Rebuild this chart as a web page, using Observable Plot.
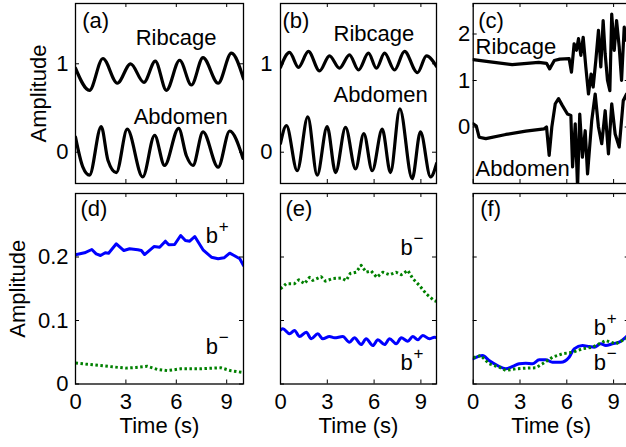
<!DOCTYPE html>
<html>
<head>
<meta charset="utf-8">
<script src="https://cdn.jsdelivr.net/npm/d3@7"></script>
<script src="https://cdn.jsdelivr.net/npm/@observablehq/plot@0.6"></script>
<style>
html, body { margin: 0; padding: 0; background: #fff; overflow: hidden; }
#chart { position: relative; width: 626px; height: 447px; overflow: hidden; background: #fff; }
#chart svg { position: absolute; }
</style>
</head>
<body>
<div id="chart"></div>
<script>
// ---------------- data (time in s, amplitude) ----------------
const timeTicks = [0, 3, 6, 9];
const topTicksAB = [0, 1];
const topTicksC = [0, 1, 2];
const bottomTicks = [0, 0.1, 0.2];

const aRibcage = [[0,0.95],[0.83,0.70],[1.63,1.06],[2.49,0.78],[3.28,1.0],[4.07,0.79],[4.75,1.03],[5.41,0.70],[6.2,1.04],[6.9,0.76],[7.59,1.07],[8.49,0.78],[9.28,1.12],[10,0.83]];
const aAbdomen = [[0,0.17],[0.44,-0.17],[0.83,-0.26],[1.53,0.29],[1.93,-0.09],[2.43,-0.23],[3.08,0.26],[4.0,-0.28],[4.71,0.19],[5.3,-0.15],[6.14,0.27],[6.6,-0.04],[6.99,-0.15],[7.59,0.23],[8.49,-0.17],[9.18,0.24],[9.97,-0.07]];

const bRibcage = [[0,0.96],[0.58,1.13],[1.15,0.96],[1.79,1.14],[2.5,0.92],[3.14,1.09],[3.78,0.95],[4.42,1.10],[5.0,0.93],[5.64,1.12],[6.15,0.95],[6.67,1.12],[7.31,0.93],[7.95,1.14],[8.78,0.90],[9.36,1.09],[10,0.97]];
const bAbdomen = [[0,0.10],[0.38,0.30],[1.07,-0.21],[1.75,0.40],[2.35,-0.26],[2.99,0.29],[3.53,-0.23],[4.17,0.28],[4.81,-0.19],[5.34,0.21],[5.88,-0.21],[6.52,0.26],[7.05,-0.23],[7.65,0.49],[8.44,-0.30],[8.97,0.23],[9.62,-0.28],[10,-0.13]];

const cRibcage = [[0,1.45],[1.1,1.40],[2.5,1.34],[4.2,1.39],[4.7,1.37],[4.9,1.25],[5.2,1.43],[5.55,1.46],[6.15,1.47],[6.3,1.18],[6.47,1.79],[6.62,1.65],[6.75,1.90],[6.9,1.54],[7.05,1.93],[7.22,1.29],[7.39,0.71],[7.56,1.14],[7.69,0.86],[7.86,1.43],[8.03,2.08],[8.18,1.29],[8.33,2.29],[8.46,1.57],[8.61,1.0],[8.76,0.78],[8.88,2.43],[9.04,1.65],[9.19,2.29],[9.36,1.72],[9.51,1.0],[9.68,2.15],[9.83,1.86],[10,2.3]];
const cAbdomen = [[0,0.07],[0.2,0.02],[0.38,-0.22],[0.81,-0.25],[2.09,-0.16],[3.37,-0.09],[4.55,-0.04],[4.7,0.0],[4.87,-0.61],[5.04,0.0],[5.26,0.50],[5.47,0.61],[5.72,0.46],[6.04,0.28],[6.26,0.25],[6.37,-0.86],[6.54,0.07],[6.69,-1.3],[6.83,0.28],[7.0,-0.65],[7.18,-0.08],[7.33,-1.01],[7.6,0.14],[7.82,0.71],[8.03,0.0],[8.24,-0.36],[8.46,0.35],[8.67,-0.58],[8.88,0.50],[9.1,-0.15],[9.36,-0.43],[9.62,0.57],[9.83,0.71],[10,0.3]];

const dPlus = [[0,0.2035],[0.54,0.2066],[0.97,0.2118],[1.23,0.205],[1.49,0.2024],[1.77,0.2066],[1.97,0.206],[2.43,0.2208],[2.88,0.2102],[3.22,0.2129],[3.71,0.2113],[3.92,0.2102],[4.11,0.2039],[4.67,0.2165],[5.01,0.2154],[5.35,0.2249],[5.55,0.2192],[5.9,0.2197],[6.26,0.2339],[6.54,0.226],[6.8,0.2249],[7.1,0.2323],[7.59,0.2113],[8.09,0.1997],[8.49,0.1972],[8.84,0.1987],[9.18,0.206],[9.44,0.2024],[9.78,0.1972],[10,0.1866]];
const dMinus = [[0,0.033],[0.7,0.031],[1.49,0.029],[2.2,0.027],[2.98,0.025],[3.6,0.026],[4.27,0.028],[4.87,0.023],[5.47,0.021],[6.26,0.024],[7.45,0.024],[8.65,0.0255],[9.24,0.021],[10,0.018]];

const ePlus = [[0,0.085],[0.15,0.0869],[0.58,0.079],[0.9,0.0843],[1.22,0.0748],[1.65,0.0816],[1.97,0.0712],[2.39,0.079],[2.71,0.0712],[3.14,0.0748],[3.46,0.0727],[3.99,0.0748],[4.42,0.0658],[4.74,0.0727],[5.17,0.0622],[5.49,0.0712],[5.92,0.0606],[6.24,0.0696],[6.67,0.0622],[6.99,0.0712],[7.42,0.0633],[7.74,0.0727],[8.16,0.0674],[8.48,0.0748],[8.8,0.0696],[9.12,0.0764],[9.55,0.0712],[9.87,0.0737],[10,0.073]];
const eMinus = [[0,0.150],[0.37,0.158],[0.9,0.158],[1.17,0.164],[1.54,0.158],[1.86,0.168],[2.07,0.163],[2.61,0.169],[2.88,0.162],[3.35,0.166],[3.89,0.167],[4.21,0.163],[4.47,0.174],[4.85,0.176],[5.17,0.187],[5.49,0.176],[5.81,0.178],[6.17,0.168],[6.56,0.176],[6.99,0.172],[7.42,0.176],[7.74,0.172],[8.16,0.179],[8.48,0.166],[8.91,0.155],[9.34,0.142],[9.87,0.131],[10,0.130]];

const fPlus = [[0,0.0397],[0.6,0.0449],[1.02,0.037],[1.56,0.0291],[2.09,0.0239],[2.52,0.0276],[2.95,0.0318],[3.37,0.0328],[3.8,0.0318],[4.23,0.0381],[4.65,0.0381],[5.08,0.0343],[5.62,0.0343],[6.15,0.0422],[6.47,0.0554],[7.0,0.0606],[7.44,0.059],[7.76,0.058],[8.18,0.0633],[8.5,0.0606],[8.93,0.0633],[9.36,0.0659],[9.78,0.0737],[10,0.078]];
const fMinus = [[0,0.0413],[0.49,0.0449],[1.02,0.0318],[1.67,0.0265],[2.09,0.0213],[2.73,0.0239],[3.37,0.025],[4.01,0.0255],[4.44,0.0318],[5.08,0.0422],[5.72,0.0476],[6.37,0.05],[7.0,0.0554],[7.65,0.058],[8.5,0.0685],[9.14,0.0633],[9.78,0.0712],[10,0.074]];

// ---------------- drawing ----------------
const FONT = "'Liberation Sans', Arial, Helvetica, sans-serif";
const FS = 22;
const chart = document.getElementById("chart");

function panel(cfg) {
  const pw = cfg.width - cfg.mL - cfg.mR;
  const ph = cfg.height - cfg.mT - cfg.mB;
  const marks = [];
  for (const s of cfg.lines) {
    marks.push(Plot.line(s.data, {
      x: d => d[0], y: d => d[1], stroke: s.color, strokeWidth: s.w,
      strokeDasharray: s.dash, strokeLinecap: s.dash ? "butt" : "round",
      strokeLinejoin: "round", curve: s.curve, clip: true
    }));
  }
  marks.push(Plot.frame({stroke: "#000", strokeWidth: 1.3}));
  marks.push(Plot.tickY(cfg.yTicks, {stroke: "#000", insetRight: pw - 4}));
  marks.push(Plot.tickY(cfg.yTicks, {stroke: "#000", insetLeft: pw - 4}));
  marks.push(Plot.tickX(timeTicks, {stroke: "#000", insetTop: ph - 4}));
  marks.push(Plot.tickX(timeTicks, {stroke: "#000", insetBottom: ph - 4}));
  if (cfg.yLabels) marks.push(Plot.axisY(cfg.yTicks, {tickSize: 0, tickPadding: cfg.yPad, tickFormat: d => String(d), label: null, fontSize: FS}));
  if (cfg.xLabels) {
    marks.push(Plot.axisX(timeTicks, {tickSize: 0, tickPadding: 9.5, tickFormat: d => String(d), label: null, fontSize: FS}));
    marks.push(Plot.text(["Time (s)"], {frameAnchor: "bottom", dy: 48.5, textAnchor: "middle", lineAnchor: "bottom", fontSize: FS}));
  }
  if (cfg.ylabelDx != null) marks.push(Plot.text(["Amplitude"], {frameAnchor: "left", rotate: -90, dx: cfg.ylabelDx, textAnchor: "middle", lineAnchor: "middle", fontSize: FS}));
  marks.push(Plot.text([cfg.letter], {frameAnchor: "top-left", dx: cfg.letterDx, dy: cfg.letterDy, textAnchor: "start", lineAnchor: "top", fontSize: FS}));
  marks.push(Plot.text(cfg.labels, {x: "t", y: "v", text: "s", textAnchor: "start", lineAnchor: "bottom", fontSize: FS}));
  if (cfg.sups) marks.push(Plot.text(cfg.sups, {x: "t", y: "v", text: "s", textAnchor: "start", lineAnchor: "bottom", dx: 13, dy: -11, fontSize: 17}));
  const svg = Plot.plot({
    width: cfg.width, height: cfg.height,
    marginLeft: cfg.mL, marginRight: cfg.mR, marginTop: cfg.mT, marginBottom: cfg.mB,
    x: {domain: [0, 10], axis: null},
    y: {domain: cfg.yDomain, axis: null},
    style: {fontFamily: FONT, fontSize: FS + "px", background: "transparent", color: "#000"},
    marks
  });
  svg.style.left = cfg.left + "px";
  svg.style.top = cfg.top + "px";
  chart.appendChild(svg);
}

const blk = (data) => ({data, color: "#000", w: 3.2, curve: "monotone-x"});
const topDom = [-0.354, 1.682];
const botDom = [0, 0.30];
const col = [
  {left: 0, width: 255, mL: 75, mR: 12},
  {left: 255, width: 195, mL: 25, mR: 14},
  {left: 450, width: 195, mL: 22.7, mR: 16.3}
];
const row = [
  {top: 0, height: 188, mT: 3, mB: 5},
  {top: 188, height: 259, mT: 5, mB: 63.5}
];

panel({...col[0], ...row[0], yDomain: topDom, yTicks: topTicksAB, yLabels: true, yPad: 7,
  lines: [blk(aRibcage), blk(aAbdomen)], letter: "(a)", letterDx: 6.7, letterDy: 8.5, ylabelDx: -36.5,
  labels: [{t: 3.58, v: 1.215, s: "Ribcage"}, {t: 3.46, v: 0.32, s: "Abdomen"}]});
panel({...col[1], ...row[0], yDomain: topDom, yTicks: topTicksAB, yLabels: true, yPad: 8,
  lines: [blk(bRibcage), blk(bAbdomen)], letter: "(b)", letterDx: 2, letterDy: 8.5,
  labels: [{t: 3.4, v: 1.256, s: "Ribcage"}, {t: 3.4, v: 0.566, s: "Abdomen"}]});
panel({...col[2], ...row[0], yDomain: [-1.215, 2.656], yTicks: topTicksC, yLabels: true, yPad: 3,
  lines: [{...blk(cRibcage), curve: "linear"}, {...blk(cAbdomen), curve: "linear"}], letter: "(c)", letterDx: 5, letterDy: 8.5,
  labels: [{t: 0.15, v: 1.56, s: "Ribcage"}, {t: 0.15, v: -1.06, s: "Abdomen"}]});

const blue = (data, curve) => ({data, color: "#0000ff", w: 3, curve});
const green = (data) => ({data, color: "#008000", w: 3, curve: "linear", dash: "2.5,2.5"});

panel({...col[0], ...row[1], yDomain: botDom, yTicks: bottomTicks, yLabels: true, yPad: 7, xLabels: true,
  lines: [blue(dPlus, "linear"), green(dMinus)], letter: "(d)", letterDx: 5, letterDy: 7, ylabelDx: -57.5,
  labels: [{t: 7.75, v: 0.2217, s: "b"}, {t: 7.75, v: 0.0476, s: "b"}],
  sups: [{t: 7.75, v: 0.2217, s: "+"}, {t: 7.75, v: 0.0476, s: "\u2212"}]});
panel({...col[1], ...row[1], yDomain: botDom, yTicks: bottomTicks, yLabels: false, xLabels: true,
  lines: [green(eMinus), blue(ePlus, "monotone-x")], letter: "(e)", letterDx: 5, letterDy: 7,
  labels: [{t: 7.69, v: 0.2024, s: "b"}, {t: 7.69, v: 0.0224, s: "b"}],
  sups: [{t: 7.69, v: 0.2024, s: "\u2212"}, {t: 7.69, v: 0.0224, s: "+"}]});
panel({...col[2], ...row[1], yDomain: botDom, yTicks: bottomTicks, yLabels: false, xLabels: true,
  lines: [blue(fPlus, "monotone-x"), green(fMinus)], letter: "(f)", letterDx: 7, letterDy: 7,
  labels: [{t: 7.73, v: 0.0775, s: "b"}, {t: 7.73, v: 0.0224, s: "b"}],
  sups: [{t: 7.73, v: 0.0775, s: "+"}, {t: 7.73, v: 0.0224, s: "\u2212"}]});
</script>
</body>
</html>
